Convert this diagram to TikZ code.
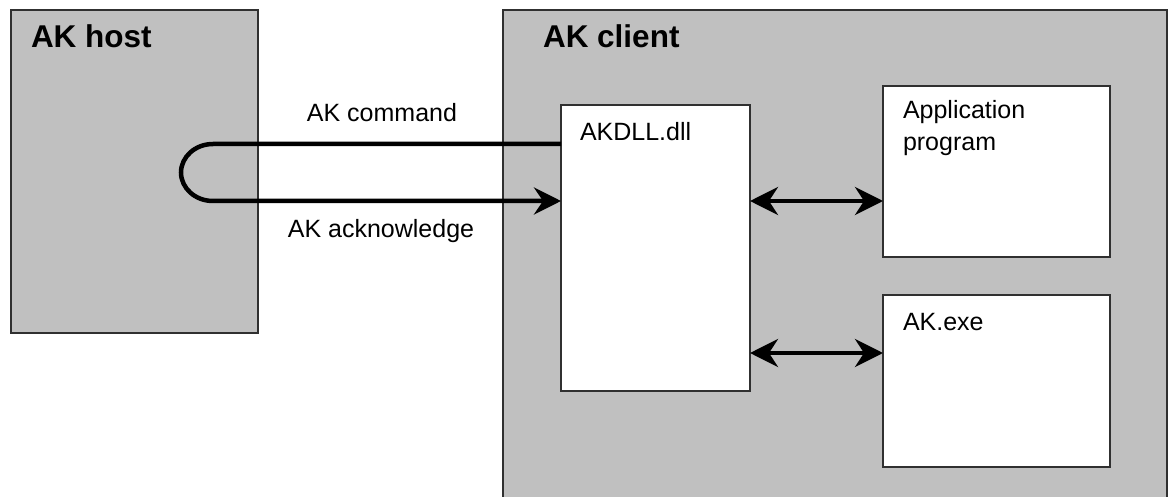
\documentclass[tikz,border=0pt]{standalone}
\usepackage{fontspec}
\setmainfont{Liberation Sans}
\usetikzlibrary{arrows.meta,positioning,calc}
\definecolor{pgray}{HTML}{C0C0C0}
\definecolor{pedge}{HTML}{303030}

\begin{document}
\begin{tikzpicture}[x=1pt,y=-1pt,
    every node/.style={inner sep=0pt,outer sep=0pt},
    area/.style={draw=pedge,line width=2.5pt,fill=pgray,anchor=north west},
    part/.style={draw=pedge,line width=2pt,fill=white,anchor=north west},
    areatitle/.style={anchor=base west,font=\fontsize{31.5}{36}\selectfont\bfseries},
    boxtext/.style={anchor=base west,align=left,font=\fontsize{25}{31.5}\selectfont},
    pipetext/.style={anchor=base,font=\fontsize{25}{31.5}\selectfont},
    pipe/.style={line width=4.5pt,-{Stealth[length=27pt,width=27pt,inset=9pt]}},
    link/.style={line width=4pt,
      {Stealth[length=28pt,width=28pt,inset=9pt]}-{Stealth[length=28pt,width=28pt,inset=9pt]}}]
  \useasboundingbox (0,0) rectangle (1172,497);

  % host and client areas
  \node[area,minimum width=664pt,minimum height=500pt] (client) at (503,10) {};
  \node[area,minimum width=247pt,minimum height=323pt] (host) at (11,10) {};
  \node[areatitle] (hostname) at ([xshift=20pt,yshift=-38pt]host.north west) {AK host};
  \node[areatitle] (clientname) at ([xshift=40pt,yshift=-38pt]client.north west) {AK client};

  % parts of the client
  \node[part,minimum width=189pt,minimum height=286pt] (dll) at (561,105) {};
  \node[part,minimum width=227pt,minimum height=171pt] (app) at (883,86) {};
  \node[part,minimum width=227pt,minimum height=172pt] (exe) at (883,295) {};
  \node[boxtext] (dllname) at ([xshift=19pt,yshift=-36pt]dll.north west) {AKDLL.dll};
  % base sits on the last line here
  \node[boxtext] (appname) at ([xshift=20pt,yshift=-64.5pt]app.north west) {Application\\program};
  \node[boxtext] (exename) at ([xshift=20pt,yshift=-35pt]exe.north west) {AK.exe};

  % command goes out, acknowledge comes back
  \coordinate (cmdin) at ([yshift=-39pt]dll.north west);
  \coordinate (ackout) at ([yshift=-96pt]dll.north west);
  \draw[pipe] (cmdin) -- ++(-348,0)
    arc[start angle=270,end angle=90,x radius=32,y radius=28.5] -- (ackout);
  \node[pipetext] (cmd) at (382,122) {AK command};
  \node[pipetext] (ack) at (381,237) {AK acknowledge};

  % dll talks to the programs
  \coordinate (dllhi) at ([yshift=-96pt]dll.north east);
  \coordinate (dlllo) at ([yshift=-248pt]dll.north east);
  \draw[link] (dllhi) -- (dllhi -| app.west);
  \draw[link] (dlllo) -- (dlllo -| exe.west);
\end{tikzpicture}
\end{document}
